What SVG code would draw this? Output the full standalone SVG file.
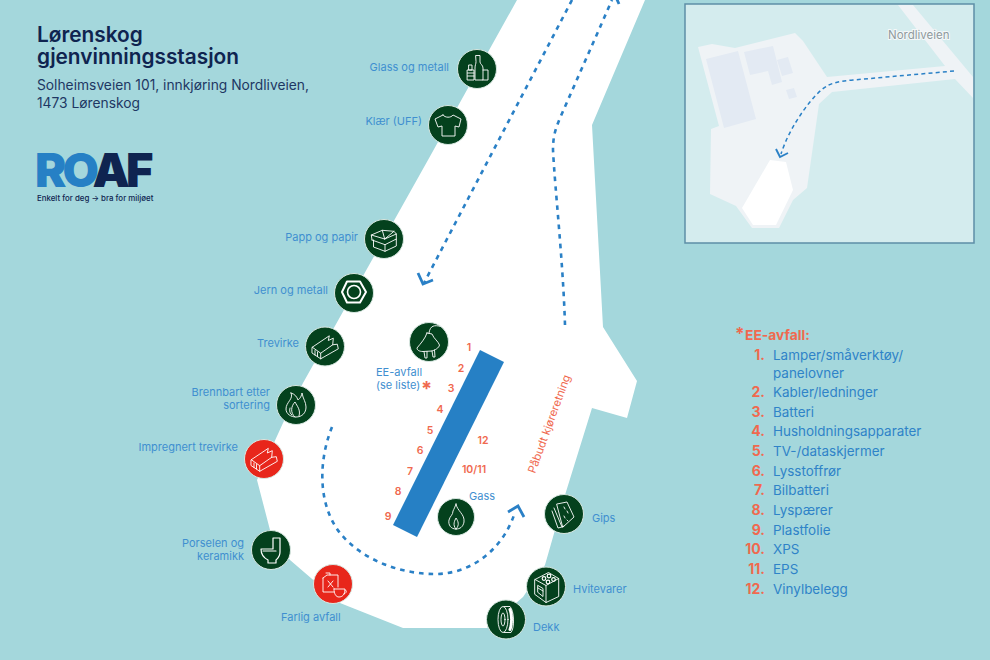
<svg xmlns="http://www.w3.org/2000/svg" xmlns:xlink="http://www.w3.org/1999/xlink" width="990" height="660" viewBox="0 0 990 660">
<style>
text{font-family:"Inter","Open Sans","Liberation Sans",sans-serif}
.l{font-size:11px;fill:#3f8fd0}
.n{font-size:10.5px;fill:#f0694f;font-weight:600;text-anchor:middle}
.lb{font-size:13.45px;fill:#2f83c8}
.ln{font-size:14px;fill:#f0694f;font-weight:700;text-anchor:end}
.e{text-anchor:end}
.c{stroke:#d9e8e2;stroke-width:1}
.g{fill:#04411d}
.r{fill:#e8261b}
.i{fill:none;stroke:#fff;stroke-width:.9;stroke-linejoin:round;stroke-linecap:round}
.d{fill:none;stroke:#2a80c6;stroke-width:2.6;stroke-dasharray:4.6 5}
.ah{fill:none;stroke:#2a80c6;stroke-width:2.8}
</style>
<defs>
<g id="plank"><path class="i" d="M-12.7 .7L4.3 -10.7L3.3 -6L8.3 -8.3L7.7 -1.7L12.3 -2.3L13.3 2.3L-4.3 12.3L-12.7 6.7ZM-12.7 .7L-4.3 6.7V12.3M-4.3 6.7L7.7 -1.7M-10 4V8.5M-7.5 5.5V10"/></g>
</defs>
<rect width="990" height="660" fill="#a4d7dc"/>
<path id="ground" fill="#fff" d="M517 0H645L592 125L603 327L637 381L627 418L592 408L565 495L545 565L523 597L487 628H403L340 603L290 560L270 530L257 480L283 423L303 383L428 160Z"/>
<g id="connectors">
<path class="d" d="M572 0L424 283"/>
<path class="ah" d="M418 273L423 284L433 280"/>
<path class="d" d="M565 325C563 260 555 190 553 150C553 135 556 128 560 118L612 0"/>
<path class="ah" d="M609 -3L615 -5L619 4"/>
<path class="d" d="M332 427C318 462 318 505 340 533C362 560 400 574 435 574C475 574 505 545 515 512"/>
<path class="ah" d="M508 512L518 506L524 517"/>
</g>
<path id="counter" fill="#2680c5" d="M480 350L504 362L417 537L393 525Z"/>
<g id="title"><text x="37" y="42" font-size="20.8" font-weight="600" fill="#0f2450">Lørenskog</text>
<text x="37" y="64" font-size="20.8" font-weight="600" fill="#0f2450">gjenvinningsstasjon</text>
<text x="37" y="90" font-size="13.8" fill="#1e3763">Solheimsveien 101, innkjøring Nordliveien,</text>
<text x="37" y="108" font-size="13.8" fill="#1e3763">1473 Lørenskog</text></g>
<g id="logo"><text x="35" y="187" font-size="47" font-weight="900" letter-spacing="-4" fill="#2680c5">RO<tspan fill="#0f2450">AF</tspan></text>
<text x="37" y="201" font-size="7.9" font-weight="500" fill="#0f2450">Enkelt for deg → bra for miljøet</text></g>
<g id="n-glass"><circle class="c g" cx="477" cy="69" r="19.5"/><g transform="translate(477 68)"><path class="i" d="M-1 -12.5H3V-6C3 -4 6 -3 6 0V12H-2V0C-2 -3 -1 -4 -1 -6ZM6 2H11V12H6M-9.5 2H-3V12H-9.5ZM-9.5 5H-3M-9.5 8H-3M-8 -3H-5V2H-8Z"/></g><text class="l e" x="449" y="71">Glass og metall</text></g>
<g id="n-klaer"><circle class="c g" cx="448" cy="125" r="19.5"/><g transform="translate(448 125)"><path class="i" d="M-5 -10L-13 -6L-10 2L-6 1L-6 11H7V1L11 2L13 -6L5 -10C3 -7 -3 -7 -5 -10Z"/></g><text class="l e" x="422" y="125">Klær (UFF)</text></g>
<g id="n-papp"><circle class="c g" cx="384" cy="239" r="19.5"/><g transform="translate(384 239)"><path class="i" d="M-12 1L1 5.7L12.3 0V7L1 12.3L-10.5 8V1M1 5.7V12.3M-12 1L-12.7 -4L-1.7 -8.7L10 -7.7L12.3 -5V0M-12.7 -4L.7 0L12.3 -5M.7 0L-1.7 -8.7M.7 0L10 -7.7"/></g><text class="l e" x="358" y="241">Papp og papir</text></g>
<g id="n-jern"><circle class="c g" cx="354" cy="293" r="19.5"/><g transform="translate(354 292)"><path class="i" style="stroke-width:2" d="M-7 -10.5H6L12 0L6 10.5H-7L-12 0Z"/><circle class="i" style="stroke-width:1.6" r="6.5"/></g><text class="l e" x="328" y="294">Jern og metall</text></g>
<g id="n-trevirke"><circle class="c g" cx="325" cy="346.5" r="19.5"/><use xlink:href="#plank" x="325" y="346.5"/><text class="l e" x="299" y="347">Trevirke</text></g>
<g id="n-brennbart"><circle class="c g" cx="296" cy="405" r="19.5"/><g transform="translate(296 405)"><path class="i" d="M-5 -12C-2 -6 -10 -3 -10 4C-10 9 -5 12 0 12C6 12 10 8 10 2C10 -3 7 -6 6 -12C5 -7 3 -6 2 -5C1 -8 -1 -11 -5 -12ZM-1 12C-6 8 -5 1 -1 -3C1 1 5 5 3 11M-6 3C-7 6 -6 9 -4 10"/></g><text class="l e" x="270" y="396">Brennbart etter</text><text class="l e" x="270" y="409">sortering</text></g>
<g id="n-impregnert"><circle class="c r" cx="264" cy="459" r="19.5"/><use xlink:href="#plank" x="264" y="459"/><text class="l e" x="238" y="451">Impregnert trevirke</text></g>
<g id="n-porselen"><circle class="c g" cx="271" cy="550" r="19.5"/><g transform="translate(271 550)"><path class="i" style="stroke-width:1.2" d="M2 -12H9V2C9 7 6 9 5 10V13H-3V10C-7 8 -10 5 -10 -1H2ZM-8 1H5"/></g><text class="l e" x="244" y="547">Porselen og</text><text class="l e" x="244" y="560">keramikk</text></g>
<g id="n-farlig"><circle class="c r" cx="333" cy="584" r="19.5"/><g transform="translate(333 584)"><path class="i" d="M-10 -6L-6 -9H5V3M-10 -6V8H1M-5 -3L0 3M0 -3L-5 3M-7 -11H-3V-9M1 5H12C12 11 9 13 6 13C3 13 1 10 1 5ZM12 6C14 6 14 9 11 10"/></g><text class="l" x="281" y="621">Farlig avfall</text></g>
<g id="n-ee"><circle class="c g" cx="429" cy="342" r="19.5"/><g transform="translate(429 342)"><path class="i" d="M11 -15.7C6 -17 1 -17 0 -9M-2 -9L3 -8C5 -3 9 -1 10.5 3C10 6 6 8 3 9L-6 9.5C-10 9.5 -12 8 -12 6C-8 1 -4 -3 -2 -9ZM-5 9.5L-4 16H-2L-2 9.5M3 9L4 15H6L5.5 8"/></g><text class="l" x="376" y="376">EE-avfall</text><text class="l" x="376" y="389">(se liste)</text><text x="421" y="396" font-size="20" font-weight="700" fill="#f0694f">*</text></g>
<g id="n-gass"><circle class="c g" cx="456" cy="517" r="18.5"/><g transform="translate(456 517)"><path class="i" d="M0 -13C1 -6 9 -3 8 5C7 10 4 12 0 12C-5 12 -8 8 -7 3C-6 -1 -3 -2 -3 -6C-2 -8 -1 -10 0 -13ZM0 12C-4 8 -1 3 0 1C2 4 4 8 0 12Z"/></g><text class="l" x="469" y="500">Gass</text></g>
<g id="n-gips"><circle class="c g" cx="564" cy="514" r="19.5"/><g transform="translate(564 514)"><path class="i" d="M-7 -10L3 -12L10 3L-1 13ZM-10 -6L-2 13L0 12M-12 -3L-6 14L-2 13M0 -7L1 -5M3 -3L4 -1M0 2L1 4M3 6L4 7"/></g><text class="l" x="592" y="522">Gips</text></g>
<g id="n-hvite"><circle class="c g" cx="546" cy="586.5" r="19.5"/><g transform="translate(546 586.5)"><path class="i" d="M-11 -7L2.5 -14L12.7 -8V10L0 16L-11 8ZM-11 -7L0 -1V16M12.7 -8L0 -1M-8 -1L-3 2V10L-8 6ZM-8 1.5L-3 4.5"/><circle class="i" style="stroke-width:1.2" cx="-2" cy="-8" r="1.8"/><circle class="i" style="stroke-width:1.2" cx="3" cy="-10.5" r="1.8"/><circle class="i" style="stroke-width:1.2" cx="2" cy="-4.5" r="1.8"/><circle class="i" style="stroke-width:1.2" cx="7.5" cy="-7" r="1.8"/></g><text class="l" x="573" y="593">Hvitevarer</text></g>
<g id="n-dekk"><circle class="c g" cx="506" cy="619.5" r="19.5"/><g transform="translate(506 619.5)"><ellipse class="i" cx="-3" cy="0" rx="5" ry="13"/><ellipse class="i" cx="-3" cy="0" rx="2" ry="6.5"/><path class="i" d="M-2 -13H4C8 -9 9 8 5 13H-2"/><path class="i" stroke-dasharray="1 1" style="stroke-width:3" d="M4 -10C6 -4 6 4 4 10"/></g><text class="l" x="533" y="631">Dekk</text></g>
<g id="lane-label"><text transform="translate(535 474) rotate(-70)" font-size="11.2" fill="#f0694f">Påbudt kjøreretning</text></g>
<g id="numbers">
<text class="n" x="469" y="351">1</text><text class="n" x="461" y="372">2</text><text class="n" x="451" y="392">3</text><text class="n" x="440" y="413">4</text><text class="n" x="430" y="434">5</text><text class="n" x="420" y="454">6</text><text class="n" x="410" y="475">7</text><text class="n" x="398" y="495">8</text><text class="n" x="388" y="520">9</text><text class="n" x="483" y="444">12</text><text class="n" x="474" y="473">10/11</text>
</g>
<g id="legend">
<text x="735" y="340" font-size="17" font-weight="700" fill="#f0694f">*</text>
<text x="745" y="340" font-size="13.8" font-weight="700" fill="#f0694f">EE-avfall:</text>
<text class="ln" x="765" y="360">1.</text><text class="lb" x="773" y="360">Lamper/småverktøy/</text><text class="lb" x="773" y="378">panelovner</text>
<text class="ln" x="765" y="397">2.</text><text class="lb" x="773" y="397">Kabler/ledninger</text>
<text class="ln" x="765" y="417">3.</text><text class="lb" x="773" y="417">Batteri</text>
<text class="ln" x="765" y="436">4.</text><text class="lb" x="773" y="436">Husholdningsapparater</text>
<text class="ln" x="765" y="456">5.</text><text class="lb" x="773" y="456">TV-/dataskjermer</text>
<text class="ln" x="765" y="476">6.</text><text class="lb" x="773" y="476">Lysstoffrør</text>
<text class="ln" x="765" y="495">7.</text><text class="lb" x="773" y="495">Bilbatteri</text>
<text class="ln" x="765" y="515">8.</text><text class="lb" x="773" y="515">Lyspærer</text>
<text class="ln" x="765" y="535">9.</text><text class="lb" x="773" y="535">Plastfolie</text>
<text class="ln" x="765" y="554">10.</text><text class="lb" x="773" y="554">XPS</text>
<text class="ln" x="765" y="574">11.</text><text class="lb" x="773" y="574">EPS</text>
<text class="ln" x="765" y="594">12.</text><text class="lb" x="773" y="594">Vinylbelegg</text>
</g>
<g id="inset">
<rect x="685" y="4" width="289" height="239" fill="#d4ecee" stroke="#5d8ea6" stroke-width="1.5"/>
<path fill="#eff3f6" d="M898 5H913L973 77V98L955 79L832 92L819 104L807 188L793 200L779 228H752L736 206L710 194L711 129L719 126L698 47L712 44L735 48L795 33L803 41L827 77L945 66Z"/>
<path fill="#e3eaf3" d="M706 59L738 51L756 119L724 128ZM744 52L773 46L782 82L772 85L768 71L750 75ZM777 60L788 57L793 73L782 76ZM786 90L794 88L797 97L789 99Z"/>
<path fill="#fff" d="M770 160L786 162L793 190L776 225H753L742 208Z"/>
<path fill="none" stroke="#2a80c6" stroke-width="1.5" stroke-dasharray="4 3.2" d="M954 71L853 80C840 81 832 83 827 86C815 92 790 125 781 154"/>
<path fill="none" stroke="#2a80c6" stroke-width="1.9" d="M776 149L780 157L788 153"/>
<text x="888" y="39" font-size="11.5" fill="#8f9a9d" stroke="#f4f8f9" stroke-width="2" paint-order="stroke">Nordliveien</text>
</g>
</svg>
